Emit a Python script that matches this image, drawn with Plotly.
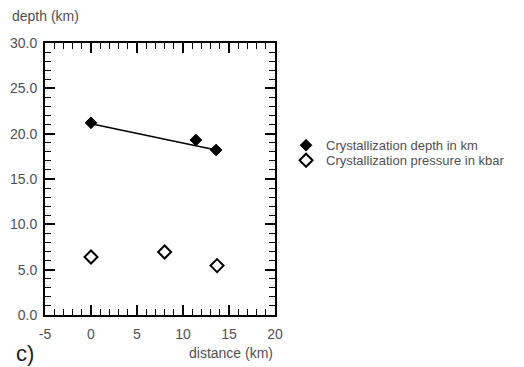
import plotly.graph_objects as go

# Data
depth_x = [0.0, 11.4, 13.6]
depth_km = [21.2, 19.3, 18.2]
trend_x = [0.0, 13.6]
trend_depth = [21.1, 18.2]
pressure_x = [0.0, 8.0, 13.7]
pressure_kbar = [6.4, 6.95, 5.45]

x_ticks = [-5, 0, 5, 10, 15, 20]
x_tick_labels = ["-5", "0", "5", "10", "15", "20"]
y_ticks = [0, 5, 10, 15, 20, 25, 30]
y_tick_labels = ["0.0", "5.0", "10.0", "15.0", "20.0", "25.0", "30.0"]

FONT = "Liberation Sans, Arial, Helvetica, sans-serif"
TXT = "#505050"

fig = go.Figure()
fig.add_trace(go.Scatter(x=trend_x, y=trend_depth, mode="lines",
                         line=dict(color="black", width=1.5),
                         showlegend=False, hoverinfo="skip"))
fig.add_trace(go.Scatter(x=depth_x, y=depth_km, mode="markers",
                         name="Crystallization depth in km", legend="legend",
                         marker=dict(symbol="diamond", size=9, color="black",
                                     line=dict(color="black", width=1))))
fig.add_trace(go.Scatter(x=pressure_x, y=pressure_kbar, mode="markers",
                         name="Crystallization pressure in kbar", legend="legend2",
                         marker=dict(symbol="diamond-open", size=10, color="black",
                                     line=dict(color="black", width=2))))

axis_common = dict(showgrid=False, zeroline=False, showline=True, automargin=False,
                   linecolor="black", linewidth=2, mirror="allticks",
                   ticks="inside", ticklen=10, tickwidth=1.5, tickcolor="black",
                   tickfont=dict(family=FONT, size=14, color=TXT))
minor_common = dict(ticks="inside", dtick=1, ticklen=6, tickwidth=1.2,
                    tickcolor="black", showgrid=False)

fig.update_xaxes(range=[-5, 20], tickvals=x_ticks, ticktext=x_tick_labels,
                 ticklabelstandoff=5, minor=minor_common, **axis_common)
fig.update_yaxes(range=[0, 30], tickvals=y_ticks, ticktext=y_tick_labels,
                 ticklabelstandoff=3, minor=minor_common, **axis_common)

legend_common = dict(xanchor="left", yanchor="top", bgcolor="rgba(0,0,0,0)",
                     font=dict(family=FONT, size=13, color=TXT), itemsizing="trace")

fig.update_layout(
    width=524, height=367,
    margin=dict(l=45, r=249, t=43, b=52),
    paper_bgcolor="white", plot_bgcolor="white",
    font=dict(family=FONT, size=13, color=TXT),
    legend=dict(x=1.048, y=0.679, **legend_common),
    legend2=dict(x=1.048, y=0.624, **legend_common),
    annotations=[
        dict(text="depth (km)", xref="paper", yref="paper",
             x=-0.152, y=1.099, xanchor="left", yanchor="middle",
             showarrow=False, font=dict(family=FONT, size=14, color=TXT)),
        dict(text="distance (km)", xref="paper", yref="paper",
             x=1.0, y=-0.140, xanchor="right", yanchor="middle",
             showarrow=False, font=dict(family=FONT, size=14, color=TXT)),
        dict(text="c)", xref="paper", yref="paper",
             x=-0.135, y=-0.140, xanchor="left", yanchor="middle",
             showarrow=False, font=dict(family=FONT, size=22, color="#222")),
    ],
)

fig.write_html("out.html", config={"displayModeBar": False},
               post_script="document.body.style.margin='0';")
